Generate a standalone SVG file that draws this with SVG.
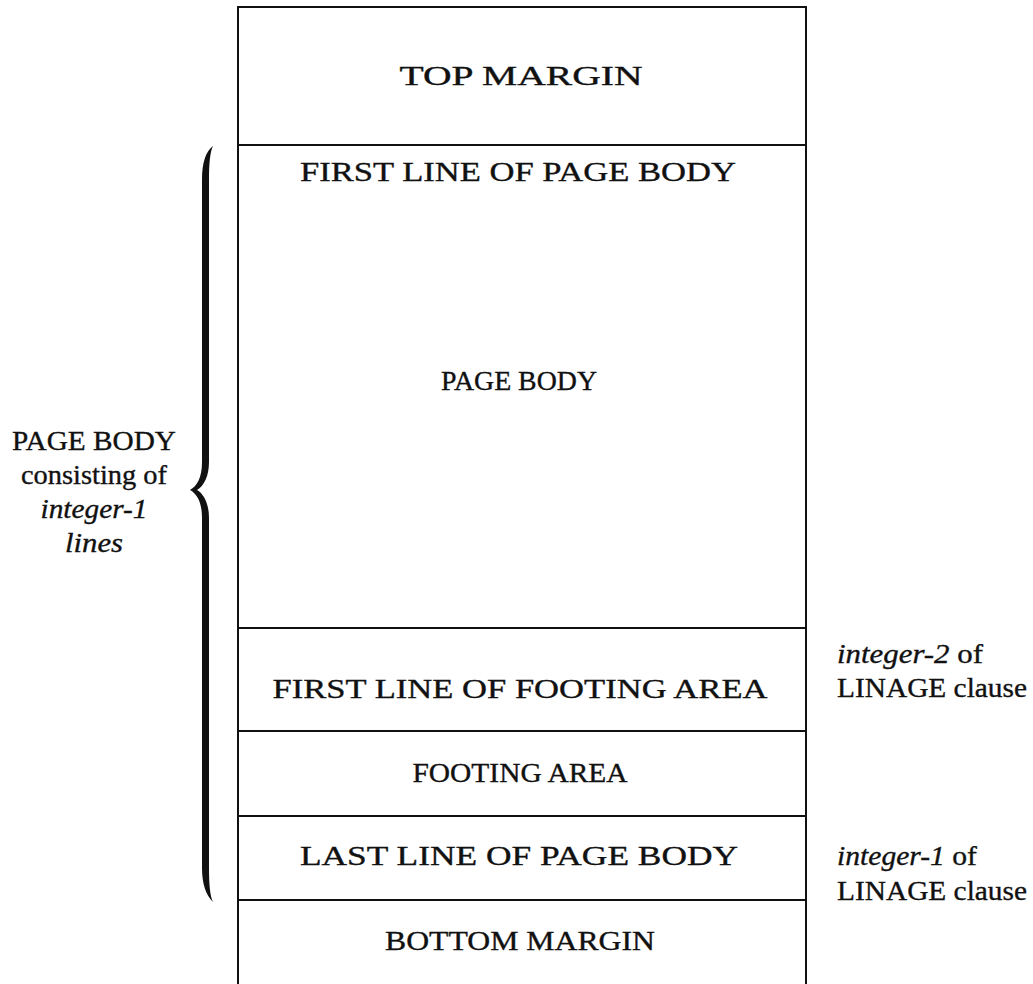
<svg xmlns="http://www.w3.org/2000/svg" width="1033" height="984" viewBox="0 0 1033 984">
<style>
.ln{stroke:#111;stroke-width:2;fill:none}
text{font-family:"Liberation Serif","Times New Roman",serif;font-size:27px;fill:#111;stroke:#111;stroke-width:0.35}
.c{text-anchor:middle}
.i{font-style:italic}
</style>
<rect width="1033" height="984" fill="#fff"/>
<g id="frame">
<path class="ln" d="M238,984 V7 H806 V984"/>
</g>
<g id="top-margin"><line class="ln" x1="238" y1="145" x2="806" y2="145"/><text class="c" x="521" y="85" textLength="243" lengthAdjust="spacingAndGlyphs">TOP MARGIN</text></g>
<g id="first-line-page-body"><text class="c" x="518" y="181" textLength="436" lengthAdjust="spacingAndGlyphs">FIRST LINE OF PAGE BODY</text></g>
<g id="page-body"><text class="c" x="519" y="390" textLength="156" lengthAdjust="spacingAndGlyphs">PAGE BODY</text></g>
<g id="first-line-footing"><line class="ln" x1="238" y1="628" x2="806" y2="628"/><text class="c" x="520" y="698" textLength="495" lengthAdjust="spacingAndGlyphs">FIRST LINE OF FOOTING AREA</text></g>
<g id="footing-area"><line class="ln" x1="238" y1="731" x2="806" y2="731"/><text class="c" x="520" y="782" textLength="215" lengthAdjust="spacingAndGlyphs">FOOTING AREA</text></g>
<g id="last-line-page-body"><line class="ln" x1="238" y1="816" x2="806" y2="816"/><text class="c" x="519" y="865" textLength="438" lengthAdjust="spacingAndGlyphs">LAST LINE OF PAGE BODY</text></g>
<g id="bottom-margin"><line class="ln" x1="238" y1="900" x2="806" y2="900"/><text class="c" x="520" y="950" textLength="270" lengthAdjust="spacingAndGlyphs">BOTTOM MARGIN</text></g>
<g id="brace">
<path fill="#111" d="M213,146 C206,151 202,162 202,180 L202,462 C202,478 197,486 190,490 C197,494 202,502 202,518 L202,868 C202,884 206,895 213,902 C210,896 209,884 209,868 L209,518 C209,504 204,494 197,490 C204,486 209,476 209,462 L209,180 C209,164 210,152 213,146 Z"/>
</g>
<g id="page-body-label">
<text class="c" x="94" y="450" textLength="164" lengthAdjust="spacingAndGlyphs">PAGE BODY</text>
<text class="c" x="94" y="484" textLength="146" lengthAdjust="spacingAndGlyphs">consisting of</text>
<text class="c i" x="94" y="518" textLength="107" lengthAdjust="spacingAndGlyphs">integer-1</text>
<text class="c i" x="94" y="552" textLength="58" lengthAdjust="spacingAndGlyphs">lines</text>
</g>
<g id="integer-2-label">
<text x="837" y="663" textLength="146" lengthAdjust="spacingAndGlyphs"><tspan class="i">integer-2</tspan> of</text>
<text x="837" y="697" textLength="190" lengthAdjust="spacingAndGlyphs">LINAGE clause</text>
</g>
<g id="integer-1-label">
<text x="837" y="865" textLength="140" lengthAdjust="spacingAndGlyphs"><tspan class="i">integer-1</tspan> of</text>
<text x="837" y="900" textLength="190" lengthAdjust="spacingAndGlyphs">LINAGE clause</text>
</g>
</svg>
